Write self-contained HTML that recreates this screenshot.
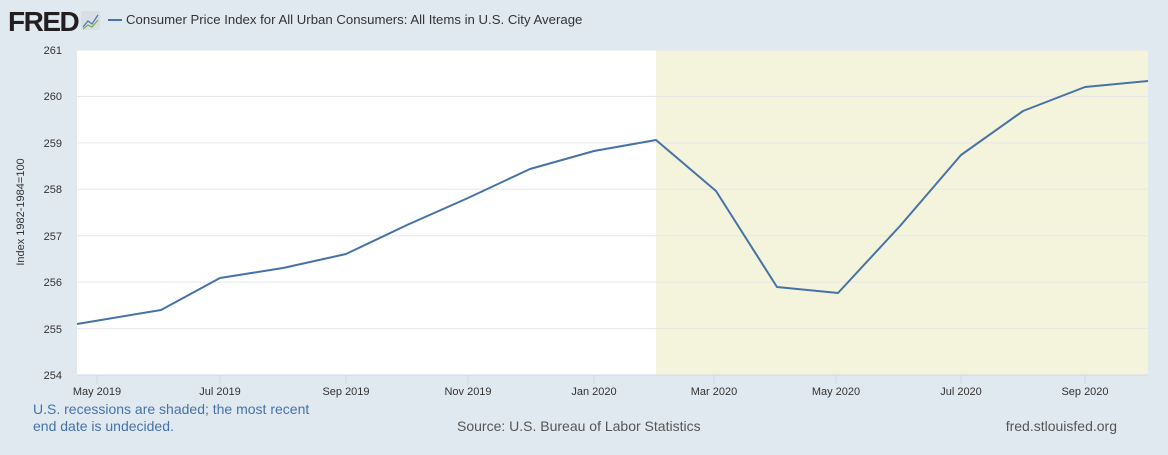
<!DOCTYPE html><html><head><style>body{margin:0;width:1168px;height:450px;background:#e1e9f0;font-family:"Liberation Sans",sans-serif;overflow:hidden}</style></head><body>
<svg width="1168" height="450" xmlns="http://www.w3.org/2000/svg" font-family="Liberation Sans, sans-serif">
<text x="8" y="31" font-size="28" font-weight="bold" fill="#231f20" letter-spacing="-1.5">FRED</text>
<rect x="81" y="11" width="19" height="19" fill="#d8dee4" rx="2"/>
<polyline points="83,27 88,21 92,24 98,15" fill="none" stroke="#4a78b0" stroke-width="1.2"/>
<polyline points="83,29 88,25 92,27 98,20" fill="none" stroke="#7ab04a" stroke-width="1.2"/>
<line x1="108" y1="20" x2="122" y2="20" stroke="#4572a7" stroke-width="2"/>
<text x="126" y="24" font-size="13.2" fill="#333">Consumer Price Index for All Urban Consumers: All Items in U.S. City Average</text>
<rect x="77" y="50" width="1071" height="325" fill="#fff"/>
<rect x="656" y="50" width="492" height="325" fill="#f4f4dc"/>
<g stroke="#e6e6e6" stroke-width="1">
<line x1="77" y1="50" x2="1148" y2="50"/><line x1="77" y1="96.4" x2="1148" y2="96.4"/><line x1="77" y1="142.9" x2="1148" y2="142.9"/><line x1="77" y1="189.3" x2="1148" y2="189.3"/><line x1="77" y1="235.7" x2="1148" y2="235.7"/><line x1="77" y1="282.1" x2="1148" y2="282.1"/><line x1="77" y1="328.6" x2="1148" y2="328.6"/></g>
<line x1="77" y1="375" x2="1148" y2="375" stroke="#ccd6eb"/>
<g stroke="#ccd6eb"><line x1="97" y1="375" x2="97" y2="384"/><line x1="220" y1="375" x2="220" y2="384"/><line x1="346" y1="375" x2="346" y2="384"/><line x1="468" y1="375" x2="468" y2="384"/><line x1="594" y1="375" x2="594" y2="384"/><line x1="714" y1="375" x2="714" y2="384"/><line x1="836" y1="375" x2="836" y2="384"/><line x1="961" y1="375" x2="961" y2="384"/><line x1="1085" y1="375" x2="1085" y2="384"/></g>
<g font-size="11" fill="#333" text-anchor="end"><text x="62" y="54">261</text><text x="62" y="100">260</text><text x="62" y="147">259</text><text x="62" y="193">258</text><text x="62" y="240">257</text><text x="62" y="286">256</text><text x="62" y="333">255</text><text x="62" y="379">254</text></g>
<g font-size="11" fill="#333" text-anchor="middle"><text x="97" y="395">May 2019</text><text x="220" y="395">Jul 2019</text><text x="346" y="395">Sep 2019</text><text x="468" y="395">Nov 2019</text><text x="594" y="395">Jan 2020</text><text x="714" y="395">Mar 2020</text><text x="836" y="395">May 2020</text><text x="961" y="395">Jul 2020</text><text x="1085" y="395">Sep 2020</text></g>
<text transform="translate(24,212) rotate(-90)" font-size="11" fill="#333" text-anchor="middle">Index 1982-1984=100</text>
<polyline fill="none" stroke="#4572a7" stroke-width="2" stroke-linejoin="round" points="77,324 161,310 220,278 283,268 346,254 407,225 468,198 530,169 594,151 656,140 716,191 777,287 838,293 900,226 961,155 1023,111 1085,87 1148,81"/>
<g font-size="14" fill="#4572a7"><text x="33" y="414">U.S. recessions are shaded; the most recent</text><text x="33" y="431">end date is undecided.</text></g>
<text x="457" y="431" font-size="14" fill="#555">Source: U.S. Bureau of Labor Statistics</text>
<text x="1117" y="431" font-size="14" fill="#555" text-anchor="end">fred.stlouisfed.org</text>
</svg></body></html>
